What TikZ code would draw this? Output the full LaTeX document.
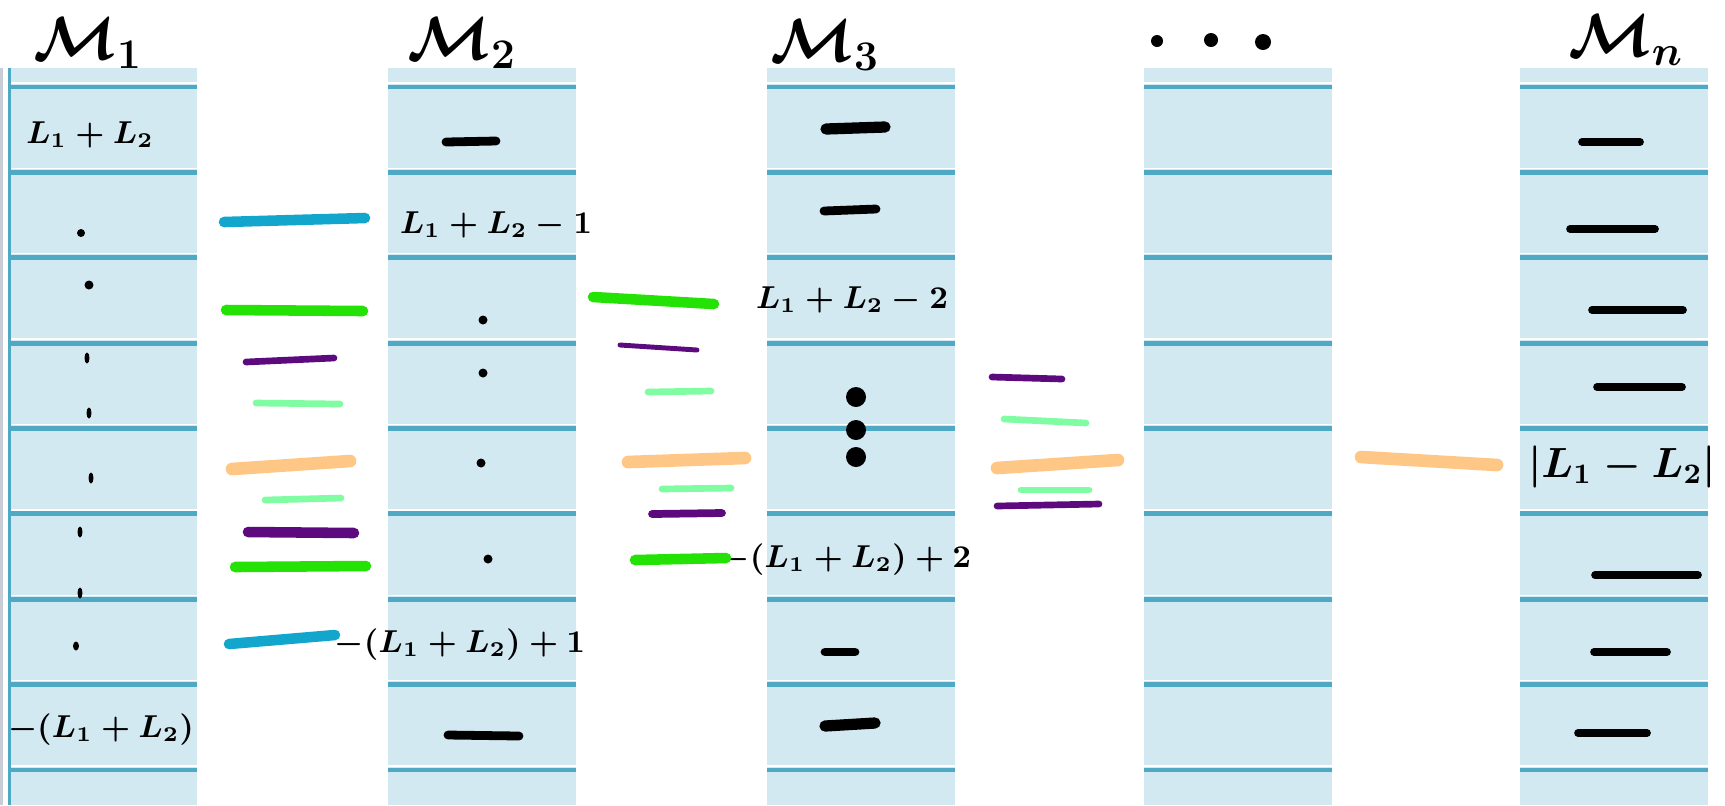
\documentclass[tikz,border=0pt]{standalone}
\usepackage{tikz}
\usepackage{xcolor}
\usepackage{amsmath}
\usepackage{bm}
\usetikzlibrary{positioning}
\usetikzlibrary{arrows,calc}

\definecolor{cellblue}{HTML}{D3E9F2}
\definecolor{rowblue}{HTML}{50A9C4}
\definecolor{edgegrey}{HTML}{C9CED6}
\definecolor{penblue}{HTML}{12A6CC}
\definecolor{pengreen}{HTML}{24E205}
\definecolor{penpurple}{HTML}{5C0A7E}
\definecolor{penmint}{HTML}{80FCA2}
\definecolor{penorange}{HTML}{FFC785}

\tikzset{
  hand/.style={text centered, inner sep=0pt, font=\small\boldmath},
  head/.style={text centered, inner sep=0pt, font=\LARGE\boldmath},
  blank/.style={line width=2.5pt, line cap=round},
  pen/.style={line width=3pt, line cap=round},
  thinpen/.style={line width=1.9pt, line cap=round}
}

\begin{document}
\begin{tikzpicture}[x=0.01cm,y=-0.01cm]
\useasboundingbox (0,0) rectangle (1725,805);

% columns of cells
\foreach \xl in {9,388,767,1144,1520}{
  \fill [cellblue] (\xl,68) rectangle ++(188,737);
  \foreach \k in {0,...,8}{
    \draw [rowblue, line width=1.4pt] (\xl,{87+85.375*\k}) -- ++(188,0);
    \draw [white, line width=0.4pt] (\xl,{83+85.375*\k}) -- ++(188,0);
  }
}
\draw [edgegrey, line width=1pt] (1.5,68) -- (1.5,805);
\draw [rowblue, line width=0.9pt] (9.5,68) -- (9.5,805);

% headers
\node (m1) [head] at (88,43) {$\mathcal{M}_1$};
\node (m2) [head] at (462,43) {$\mathcal{M}_2$};
\node (m3) [head] at (825,45) {$\mathcal{M}_3$};
\node (mn) [head] at (1626,40) {$\mathcal{M}_n$};
\fill (1157,41) circle [radius=6];
\fill (1211,40) circle [radius=7];
\fill (1263,42) circle [radius=8];

% column 1
\node (c1top) [hand] at (90,135) {$L_1+L_2$};
\node (c1bot) [hand] at (101,730) {$-(L_1+L_2)$};
\fill (81,233) circle [radius=4];
\fill (89,285) circle [radius=4.5];
\foreach \x/\y in {87/358,89/413,91/478,80/532,80/593}
  \fill (\x,\y) ellipse [x radius=2.5, y radius=5.5];
\fill (76,646) ellipse [x radius=3, y radius=4.5];

% column 2
\node (c2top) [hand] at (496,225) {$L_1+L_2-1$};
\node (c2bot) [hand] at (460,645) {$-(L_1+L_2)+1$};
\draw [blank] (446,142) -- (496,141);
\draw [blank] (448,735) -- (519,736);
\foreach \x/\y in {483/320,483/373,481/463,488/559}
  \fill (\x,\y) circle [radius=4.5];

% column 3
\node (c3top) [hand] at (852,300) {$L_1+L_2-2$};
\node (c3bot) [hand] at (846,560) {$-(L_1+L_2)+2$};
\draw [blank, line width=3.2pt] (826,129) -- (885,127);
\draw [blank] (824,211) -- (876,209);
\draw [blank] (825,652) -- (855,652);
\draw [blank, line width=3.2pt] (825,726) -- (875,723);
\foreach \y in {397,430,457}
  \fill (856,\y) circle [radius=10];

% column n
\node (cnmid) [hand, font=\large\boldmath] at (1622,467) {$|L_1-L_2|$};
\foreach \xa/\xb/\y in {1582/1640/142,1570/1655/229,1592/1683/310,1597/1682/387,1595/1698/575,1594/1667/652,1578/1647/733}
  \draw [blank, line width=2.2pt] (\xa,\y) -- (\xb,\y);

% coloured strokes, gap 1
\draw [pen, penblue] (224,222) -- (365,218);
\draw [pen, pengreen] (226,310) -- (363,311);
\draw [thinpen, penpurple] (246,362) -- (334,358);
\draw [thinpen, penmint] (256,403) -- (340,404);
\draw [pen, penorange, line width=3.6pt] (232,469) -- (350,461);
\draw [thinpen, penmint] (265,500) -- (341,498);
\draw [pen, penpurple] (248,532) -- (354,533);
\draw [pen, pengreen] (235,567) -- (366,566);
\draw [pen, penblue] (229,644) -- (335,635);

% gap 2
\draw [pen, pengreen] (593,297) -- (714,304);
\draw [thinpen, penpurple, line width=1.4pt] (620,345) -- (697,350);
\draw [thinpen, penmint] (648,392) -- (711,391);
\draw [pen, penorange, line width=3.6pt] (628,462) -- (745,458);
\draw [thinpen, penmint] (662,489) -- (731,488);
\draw [thinpen, penpurple, line width=2.2pt] (652,514) -- (722,513);
\draw [pen, pengreen] (635,560) -- (726,558);

% gap 3
\draw [thinpen, penpurple] (992,377) -- (1062,379);
\draw [thinpen, penmint] (1004,419) -- (1086,423);
\draw [pen, penorange, line width=3.6pt] (997,468) -- (1118,460);
\draw [thinpen, penmint] (1021,490) -- (1089,490);
\draw [thinpen, penpurple] (997,506) -- (1099,504);

% gap 4
\draw [pen, penorange, line width=3.6pt] (1361,457) -- (1497,465);
\end{tikzpicture}
\end{document}
